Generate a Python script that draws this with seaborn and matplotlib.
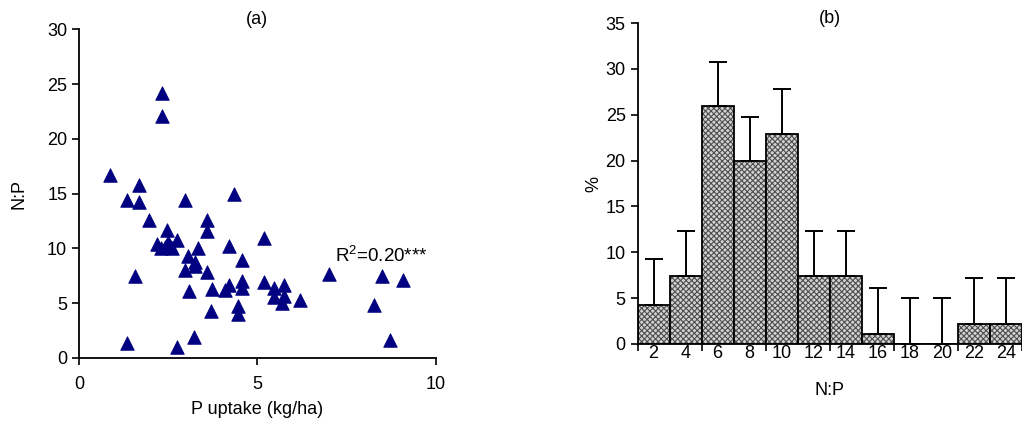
import numpy as np
import pandas as pd
import matplotlib
matplotlib.use("Agg")
import matplotlib.pyplot as plt
import seaborn as sns
from matplotlib.colors import to_rgba
from matplotlib.ticker import FixedLocator

# ---- Data: panel (a) scatter ----
p_uptake = [0.87, 2.33, 2.33, 1.69, 1.35, 1.69, 2.97, 4.35, 1.96, 3.58,
            3.58, 2.46, 2.18, 2.76, 2.55, 2.40, 2.62, 2.30, 2.50, 3.35,
            4.21, 5.20, 3.07, 3.25, 2.97, 3.25, 3.58, 4.58, 1.57, 3.08,
            3.74, 4.10, 4.21, 4.58, 4.58, 5.20, 5.48, 5.76, 5.48, 5.76,
            5.69, 6.20, 7.00, 8.49, 9.10, 8.28, 8.72, 3.69, 4.47, 4.47,
            1.35, 2.74, 3.23]
np_ratio = [16.7, 24.2, 22.1, 15.8, 14.4, 14.2, 14.4, 15.0, 12.6, 12.6,
            11.6, 11.7, 10.4, 10.8, 10.2, 10.1, 10.0, 10.0, 10.6, 10.0,
            10.2, 10.95, 9.3, 8.8, 8.05, 8.4, 7.85, 8.9, 7.5, 6.15,
            6.3, 6.2, 6.7, 7.0, 6.35, 6.9, 6.4, 6.7, 5.6, 5.7,
            5.0, 5.3, 7.65, 7.45, 7.1, 4.85, 1.6, 4.3, 4.75, 4.05,
            1.4, 1.0, 1.95]

# ---- Data: panel (b) histogram ----
np_classes = ["2", "4", "6", "8", "10", "12", "14", "16", "18", "20", "22", "24"]
percent = [4.2, 7.4, 25.9, 19.9, 22.9, 7.4, 7.4, 1.1, 0.0, 0.0, 2.2, 2.2]
percent_err = [5.1, 4.9, 4.9, 4.9, 4.9, 4.9, 4.9, 5.0, 5.0, 5.0, 5.0, 5.0]

sns.set_theme(style="ticks")
plt.rcParams['font.family'] = ['Liberation Sans', 'DejaVu Sans']
plt.rcParams['mathtext.fontset'] = 'custom'
plt.rcParams['mathtext.rm'] = 'Liberation Sans'
plt.rcParams['mathtext.it'] = 'Liberation Sans'
plt.rcParams['hatch.linewidth'] = 0.8
for k in ('text.color', 'axes.labelcolor', 'xtick.color', 'ytick.color'):
    plt.rcParams[k] = 'black'

W, H = 1022, 430
fig = plt.figure(figsize=(W / 100, H / 100), dpi=100)

# ---------- Panel (a) ----------
a_h = 358 - 29.3
axa = fig.add_axes([79 / W, 1 - 358 / H, (435.5 - 79) / W, a_h / H])
df_a = pd.DataFrame({"P": p_uptake, "NP": np_ratio})
sns.scatterplot(data=df_a, x="P", y="NP", ax=axa, marker="^", s=95,
                color="#000080", edgecolor="#000080", linewidth=0.6, zorder=3)
axa.set_xlim(0, 10)
axa.set_ylim(0, 30)
axa.set_xticks([0, 5, 10])
axa.set_yticks(range(0, 31, 5))
axa.set_xlabel("P uptake (kg/ha)", fontsize=13, labelpad=6)
axa.set_ylabel("N:P", fontsize=13, labelpad=14)
axa.text(0.5, 1 + 10 / a_h, "(a)", transform=axa.transAxes, fontsize=13,
         ha="center", va="center")
axa.text(8.47, 9.3, "R$^2$=0.20***", fontsize=13.5, ha="center", va="center")
sns.despine(ax=axa)
axa.tick_params(axis="both", labelsize=13, length=5, width=1.2, direction="out",
                color="black", labelcolor="black")
axa.tick_params(axis="x", pad=8)
for s in ("left", "bottom"):
    axa.spines[s].set_linewidth(1.3)
    axa.spines[s].set_color("black")

# ---------- Panel (b) ----------
b_h = 344 - 23
axb = fig.add_axes([637.5 / W, 1 - 344 / H, (W - 637.5) / W, b_h / H])
df_b = pd.DataFrame({"NP": np_classes, "pct": percent, "err": percent_err})
sns.barplot(data=df_b, x="NP", y="pct", order=np_classes, ax=axb, width=1.0,
            color="#d2d2d2", edgecolor="black", linewidth=1.3, hatch="xxxxxx",
            saturation=1, zorder=2)
hc = to_rgba("#4e4e4e")
for p in axb.patches:
    p._hatch_color = hc
xpos = np.arange(len(np_classes))
axb.errorbar(xpos, df_b["pct"], yerr=[np.zeros(len(xpos)), df_b["err"]],
             fmt="none", ecolor="black", elinewidth=1.4, capsize=6.5, capthick=1.4,
             zorder=3)
axb.set_xlim(-0.5, len(np_classes) - 0.5)
axb.set_ylim(0, 35)
axb.set_yticks(range(0, 36, 5))
axb.xaxis.set_major_locator(FixedLocator(np.arange(-0.5, len(np_classes), 2)))
axb.set_xticklabels([])
axb.xaxis.set_minor_locator(FixedLocator(xpos))
axb.set_xticklabels(np_classes, minor=True)
axb.tick_params(axis="x", which="minor", length=0, pad=1, labelsize=13, labelcolor="black")
axb.tick_params(axis="x", which="major", length=5, width=1.2, direction="out", color="black")
axb.tick_params(axis="y", labelsize=13, length=5, width=1.2, direction="out",
                color="black", labelcolor="black")
axb.set_xlabel("N:P", fontsize=13, labelpad=14)
axb.set_ylabel("%", fontsize=13, labelpad=2)
axb.text(0.5, 1 + 5 / b_h, "(b)", transform=axb.transAxes, fontsize=13,
         ha="center", va="center")
sns.despine(ax=axb)
for s in ("left", "bottom"):
    axb.spines[s].set_linewidth(1.3)
    axb.spines[s].set_color("black")

fig.savefig("out.png", dpi=100)
